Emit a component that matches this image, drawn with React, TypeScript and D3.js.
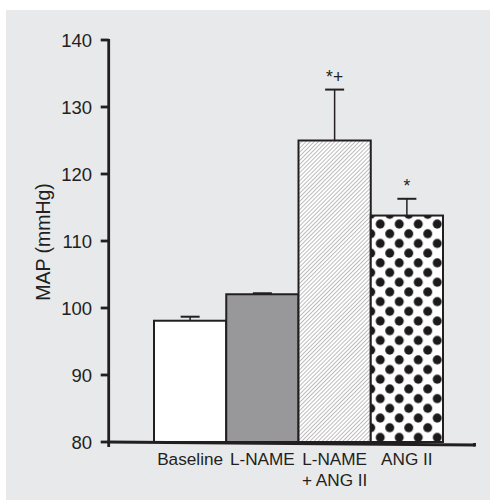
import React from "react";
import * as d3 from "d3";

const categories = ["Baseline", "L-NAME", "L-NAME\n+ ANG II", "ANG II"];
const means = [98.1, 102.05, 125.0, 113.8];
const errors = [0.6, 0.15, 7.6, 2.5];
const annotations = ["", "", "*+", "*"];
const yTicks = [80, 90, 100, 110, 120, 130, 140];
const fills = ["#ffffff", "#98989a", "url(#hatch)", "url(#dots)"];

export default function App() {
  const W = 490, H = 500;
  const axisX = 108.7;
  const y = d3.scaleLinear().domain([80, 140]).range([442, 40]);
  const x = d3.scaleBand<string>().domain(categories).range([154, 443]).padding(0);
  const font = "'Liberation Sans', Arial, Helvetica, sans-serif";
  const ink = "#231f20";
  const dotsX = (x(categories[3]) ?? 0) + 9.5;
  const dotsY = y(means[3]) + 8.5;
  const dw = 19, dh = 19.4, dr = 4.5;

  return (
    <svg width={W} height={H} style={{ position: "absolute", left: 0, top: 0 }}>
      <defs>
        <pattern id="hatch" patternUnits="userSpaceOnUse" width={2.9} height={2.9} patternTransform="rotate(45)">
          <rect width={2.9} height={2.9} fill="#ffffff" />
          <line x1={0} y1={0} x2={0} y2={2.9} stroke="#6e6e6e" strokeWidth={0.9} />
        </pattern>
        <pattern id="dots" patternUnits="userSpaceOnUse" x={dotsX} y={dotsY} width={dw} height={dh}>
          <rect width={dw} height={dh} fill="#ffffff" />
          <circle cx={0} cy={0} r={dr} fill="#1c1a1b" />
          <circle cx={dw} cy={0} r={dr} fill="#1c1a1b" />
          <circle cx={0} cy={dh} r={dr} fill="#1c1a1b" />
          <circle cx={dw} cy={dh} r={dr} fill="#1c1a1b" />
          <circle cx={dw / 2} cy={dh / 2} r={dr} fill="#1c1a1b" />
        </pattern>
      </defs>
      <rect x={0} y={0} width={W} height={H} fill="#ffffff" />
      <rect x={6} y={10} width={W - 6} height={H - 10} fill="#e8e9eb" />

      {/* bars */}
      {categories.map((c, i) => {
        const bx = x(c) ?? 0;
        const bw = x.bandwidth();
        const top = y(means[i]);
        const cx = bx + bw / 2;
        const et = y(means[i] + errors[i]);
        return (
          <g key={c}>
            <line x1={cx} x2={cx} y1={top} y2={et} stroke={ink} strokeWidth={1.5} />
            <line x1={cx - 9.5} x2={cx + 9.5} y1={et} y2={et} stroke={ink} strokeWidth={2} />
            <rect x={bx} y={top} width={bw} height={y(80) - top} fill={fills[i]} stroke={ink} strokeWidth={2} />
            {annotations[i] && (
              <text x={cx} y={et - 7} textAnchor="middle" fontFamily={font} fontSize={17.5} fill={ink}>
                {annotations[i]}
              </text>
            )}
            {c.split("\n").map((line, k) => (
              <text key={k} x={cx} y={465 + k * 21} textAnchor="middle" fontFamily={font} fontSize={17.2} fill={ink}>
                {line}
              </text>
            ))}
          </g>
        );
      })}

      {/* axes */}
      <line x1={axisX} x2={axisX} y1={y(140) - 1} y2={447} stroke={ink} strokeWidth={2.8} />
      <line x1={axisX - 1.4} x2={475} y1={442} y2={445} stroke={ink} strokeWidth={2.8} />
      <rect x={473} y={443} width={3} height={3.5} fill={ink} />
      {yTicks.map((t) => (
        <g key={t}>
          <line x1={axisX - 8} x2={axisX} y1={y(t)} y2={y(t)} stroke={ink} strokeWidth={2.8} />
          <text x={92} y={y(t) + 6.5} textAnchor="end" fontFamily={font} fontSize={18.5} fill={ink}>
            {t}
          </text>
        </g>
      ))}
      <text
        transform={`translate(49.5, ${242}) rotate(-90)`}
        textAnchor="middle"
        fontFamily={font}
        fontSize={19.5}
        fill={ink}
      >
        MAP (mmHg)
      </text>
    </svg>
  );
}
